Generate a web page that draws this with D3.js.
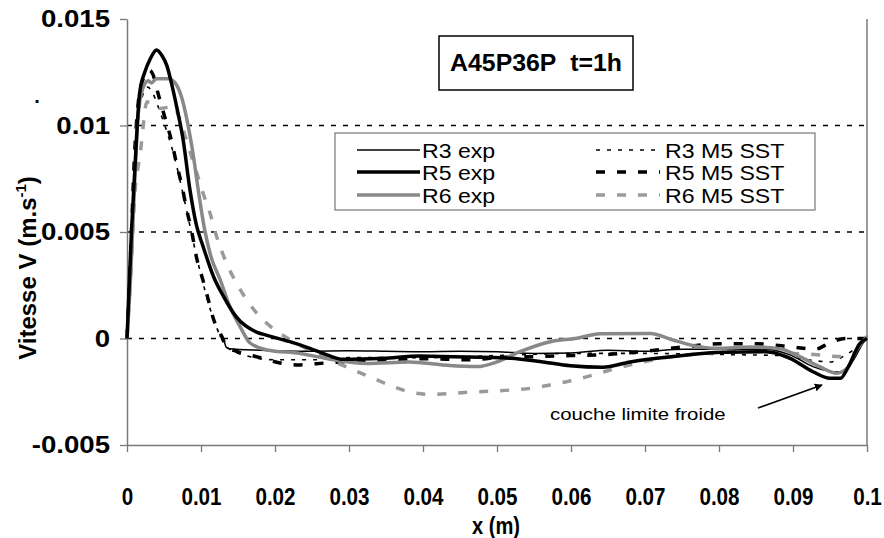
<!DOCTYPE html>
<html><head><meta charset="utf-8">
<script src="https://cdn.jsdelivr.net/npm/d3@7/dist/d3.min.js"></script>
<style>body{margin:0;background:#fff}svg{display:block}</style>
</head><body>
<svg id="c" width="884" height="538"></svg>
<script>
// ---- data ----
const xTicks = [0,0.01,0.02,0.03,0.04,0.05,0.06,0.07,0.08,0.09,0.1];
const xTickLabels = ["0","0.01","0.02","0.03","0.04","0.05","0.06","0.07","0.08","0.09","0.1"];
const yTicks = [-0.005,0,0.005,0.01,0.015];
const yTickLabels = ["-0.005","0","0.005","0.01","0.015"];
const gridValues = [0,0.005,0.01];
const seriesNames = ["R3 exp","R5 exp","R6 exp","R3 M5 SST","R5 M5 SST","R6 M5 SST"];

const r3Exp = [[0.0125,0.0001],[0.0129,0.00008],[0.0134,-0.0004],[0.0138,-0.00048],[0.018,-0.00055],[0.0245,-0.0006],[0.03,-0.00058],[0.035,-0.0006],[0.04,-0.00062],[0.045,-0.0006],[0.05,-0.00062],[0.055,-0.0007],[0.06,-0.00068],[0.065,-0.00055],[0.07,-0.0006],[0.075,-0.0005],[0.08,-0.0005],[0.0865,-0.0005],[0.0896,-0.00077],[0.0927,-0.00132],[0.0955,-0.00156],[0.0968,-0.00156],[0.0982,-0.001],[0.0995,-0.0002],[0.1,0]];
const r5Exp = [[0,0],[0.0006,0.005],[0.0013,0.0095],[0.0017,0.0115],[0.0024,0.0125],[0.0031,0.0131],[0.004,0.01355],[0.0047,0.0133],[0.0054,0.0128],[0.006,0.012],[0.0067,0.0109],[0.0076,0.0093],[0.0085,0.007],[0.0094,0.0053],[0.0103,0.0043],[0.0117,0.0029],[0.013,0.002],[0.0148,0.001],[0.0175,0.0003],[0.0189,0.00015],[0.022,-0.00015],[0.0247,-0.00046],[0.027,-0.00077],[0.0292,-0.00098],[0.0346,-0.00093],[0.0396,-0.00082],[0.0427,-0.00085],[0.0518,-0.00093],[0.0562,-0.0011],[0.0599,-0.00128],[0.0643,-0.00135],[0.068,-0.0011],[0.0738,-0.00085],[0.0805,-0.00065],[0.0864,-0.00062],[0.0896,-0.00093],[0.0927,-0.00156],[0.095,-0.00187],[0.0964,-0.00187],[0.0975,-0.00132],[0.099,-0.00025],[0.1,0]];
const r6Exp = [[0,0],[0.0005,0.003],[0.001,0.007],[0.0015,0.0105],[0.0022,0.0118],[0.0029,0.0121],[0.0033,0.012],[0.004,0.0122],[0.0056,0.0122],[0.0065,0.012],[0.0074,0.0113],[0.0082,0.0101],[0.009,0.0085],[0.0097,0.0068],[0.0105,0.0051],[0.0113,0.0039],[0.0126,0.00275],[0.0139,0.0015],[0.0153,0.00055],[0.0166,-0.0002],[0.0189,-0.00054],[0.0234,-0.0007],[0.0279,-0.001],[0.0324,-0.00117],[0.0382,-0.0011],[0.0427,-0.00124],[0.0473,-0.00132],[0.05,-0.0011],[0.0531,-0.00062],[0.0572,-0.00015],[0.0608,0.00001],[0.0639,0.00022],[0.0707,0.00024],[0.0738,-0.00007],[0.0761,-0.0003],[0.0797,-0.00046],[0.0842,-0.0004],[0.0882,-0.00048],[0.0909,-0.00085],[0.0936,-0.00132],[0.0959,-0.00163],[0.0973,-0.0014],[0.0986,-0.00054],[0.1,0.0001]];
const r3Sst = [[0,0],[0.0005,0.0035],[0.001,0.0078],[0.0015,0.0102],[0.0022,0.0115],[0.0028,0.0118],[0.0035,0.0115],[0.0045,0.0106],[0.0055,0.0096],[0.0065,0.0084],[0.0075,0.0069],[0.0085,0.0053],[0.0095,0.0037],[0.0105,0.0023],[0.0115,0.0011],[0.0125,0.0002],[0.0135,-0.0004],[0.016,-0.0008],[0.02,-0.001],[0.025,-0.001],[0.03,-0.0009],[0.04,-0.0009],[0.05,-0.0008],[0.06,-0.0007],[0.07,-0.0007],[0.08,-0.00075],[0.088,-0.0008],[0.092,-0.001],[0.095,-0.0011],[0.097,-0.0008],[0.1,0]];
const r5Sst = [[0,0],[0.0005,0.004],[0.001,0.0085],[0.0015,0.011],[0.0022,0.0122],[0.003,0.0126],[0.0035,0.0124],[0.0042,0.0115],[0.0051,0.0104],[0.006,0.0093],[0.0067,0.0082],[0.0074,0.0072],[0.0081,0.006],[0.0087,0.0051],[0.0094,0.0038],[0.0103,0.0027],[0.011,0.0018],[0.0117,0.0009],[0.0128,0.0001],[0.0135,-0.0004],[0.0148,-0.0006],[0.018,-0.0009],[0.0207,-0.00115],[0.0229,-0.00124],[0.0256,-0.00118],[0.0288,-0.0011],[0.035,-0.001],[0.04,-0.00095],[0.0464,-0.001],[0.05,-0.0009],[0.055,-0.00085],[0.06,-0.0008],[0.065,-0.00075],[0.07,-0.0006],[0.075,-0.0004],[0.08,-0.00025],[0.085,-0.00025],[0.09,-0.0004],[0.093,-0.0005],[0.095,-0.0002],[0.097,0],[0.1,0]];
const r6Sst = [[0,0],[0.0005,0.003],[0.001,0.0065],[0.0018,0.0087],[0.0027,0.0111],[0.0036,0.0111],[0.0045,0.0108],[0.0063,0.0109],[0.0073,0.0101],[0.0083,0.009],[0.0094,0.0078],[0.0103,0.0068],[0.0112,0.0059],[0.0121,0.0048],[0.0135,0.0035],[0.0148,0.0026],[0.0162,0.0018],[0.0175,0.0012],[0.02,0.0004],[0.0225,-0.00015],[0.0256,-0.0007],[0.0301,-0.0014],[0.0333,-0.00187],[0.036,-0.00226],[0.0387,-0.00255],[0.041,-0.00262],[0.0473,-0.0025],[0.0518,-0.00242],[0.0545,-0.00234],[0.0572,-0.00218],[0.0594,-0.00203],[0.0621,-0.0018],[0.0653,-0.00148],[0.068,-0.00124],[0.0738,-0.00085],[0.0783,-0.0007],[0.085,-0.0006],[0.09,-0.0007],[0.0936,-0.00077],[0.0964,-0.00085],[0.0981,-0.0007],[0.0995,-0.0002],[0.1,0]];

// ---- layout / styles ----
const svg = d3.select("#c");
const FONT = "Liberation Sans, Arial, sans-serif";
const X0=127, X1=867, Y0=445, Y1=19;
const x = d3.scaleLinear().domain([0,0.1]).range([X0,X1]);
const y = d3.scaleLinear().domain([-0.005,0.015]).range([Y0,Y1]);
const AX = "#7a7a7a";

const styles = [
  {data:r3Exp, color:"#000", w:1.5, dash:null},
  {data:r5Exp, color:"#000", w:3.5, dash:null},
  {data:r6Exp, color:"#888", w:3.5, dash:null},
  {data:r3Sst, color:"#000", w:1.6, dash:"4,7"},
  {data:r5Sst, color:"#000", w:3.5, dash:"9,12"},
  {data:r6Sst, color:"#9a9a9a", w:3.5, dash:"9,12"}
];

// gridlines
svg.append("g").selectAll("line").data(gridValues).join("line")
  .attr("x1",X0).attr("x2",X1).attr("y1",d=>y(d)).attr("y2",d=>y(d))
  .attr("stroke","#000").attr("stroke-width",1.5).attr("stroke-dasharray","5,7");

// right border
svg.append("line").attr("x1",X1).attr("x2",X1).attr("y1",Y1).attr("y2",Y0)
  .attr("stroke",AX).attr("stroke-width",1.5);

// axes
const xAxis = svg.append("g").attr("transform",`translate(0,${Y0})`)
  .call(d3.axisBottom(x).tickValues(xTicks).tickFormat((d,i)=>xTickLabels[i]).tickSizeInner(7).tickSizeOuter(0).tickPadding(36));
const yAxis = svg.append("g").attr("transform",`translate(${X0},0)`)
  .call(d3.axisLeft(y).tickValues(yTicks).tickFormat((d,i)=>yTickLabels[i]).tickSizeInner(7).tickSizeOuter(0).tickPadding(10));
[xAxis,yAxis].forEach(a=>{
  a.select(".domain").attr("stroke",AX).attr("stroke-width",1.5);
  a.selectAll(".tick line").attr("stroke",AX).attr("stroke-width",1.3);
  a.selectAll("text").attr("fill","#000").attr("font-family",FONT)
    .attr("font-weight","bold").attr("font-size",24);
});
xAxis.selectAll("text").attr("transform","scale(0.86,1)");
yAxis.selectAll("text").attr("x",-17/1.15).attr("transform","scale(1.15,1)");

// series
const line = d3.line().x(d=>x(d[0])).y(d=>y(d[1])).curve(d3.curveMonotoneX);
const order = [3,4,5,0,2,1];
svg.append("g").selectAll("path").data(order.map(i=>styles[i])).join("path")
  .attr("d",d=>line(d.data)).attr("fill","none")
  .attr("stroke",d=>d.color).attr("stroke-width",d=>d.w)
  .attr("stroke-dasharray",d=>d.dash).attr("stroke-linejoin","round");

// helper for horizontally-scaled text
function stext(tx,ty,sx,size,weight,anchor,str){
  return svg.append("text").attr("transform",`translate(${tx},${ty}) scale(${sx},1)`)
    .attr("text-anchor",anchor).attr("font-family",FONT).attr("font-weight",weight)
    .attr("font-size",size).attr("fill","#000").text(str);
}

// axis titles
stext(496,534,0.84,24,"bold","middle","x (m)");
const yl = svg.append("text").attr("transform","translate(36,268) rotate(-90)")
  .attr("text-anchor","middle").attr("font-family",FONT)
  .attr("font-weight","bold").attr("font-size",24);
yl.append("tspan").text("Vitesse V (m.s");
yl.append("tspan").attr("font-size",15).attr("dy",-10).text("-1");
yl.append("tspan").attr("dy",10).text(")");
stext(37,103,1,20,"bold","middle",".");

// title box
svg.append("rect").attr("x",439).attr("y",36).attr("width",194).attr("height",54)
  .attr("fill","#fff").attr("stroke","#000").attr("stroke-width",1.5);
stext(536,71,1.08,23,"bold","middle","A45P36P\u00a0\u00a0t=1h");

// legend
svg.append("rect").attr("x",335).attr("y",133).attr("width",480).attr("height",77)
  .attr("fill","#fff").attr("stroke","#777").attr("stroke-width",1.2);
const legRows = [150,172,195];
seriesNames.forEach((n,i)=>{
  const col = i<3?0:1, row=i%3;
  const lx0 = col===0?357:596, lx1 = col===0?420:660, tx = col===0?422:665;
  const s = styles[i];
  svg.append("line").attr("x1",lx0).attr("x2",lx1).attr("y1",legRows[row]).attr("y2",legRows[row])
    .attr("stroke",s.color).attr("stroke-width",s.w).attr("stroke-dasharray",s.dash);
  stext(tx,legRows[row]+7.5,1.1,21,"normal","start",n);
});

// annotation
svg.append("defs").append("marker").attr("id","ah").attr("viewBox","0 0 10 10").attr("refX",9).attr("refY",5)
  .attr("markerWidth",5).attr("markerHeight",5).attr("orient","auto")
  .append("path").attr("d","M0,0L10,5L0,10z").attr("fill","#000");
svg.append("line").attr("x1",758).attr("y1",408).attr("x2",822).attr("y2",385)
  .attr("stroke","#000").attr("stroke-width",1.6).attr("marker-end","url(#ah)");
stext(550,420,1.2,17,"normal","start","couche limite froide");
</script>
</body></html>
